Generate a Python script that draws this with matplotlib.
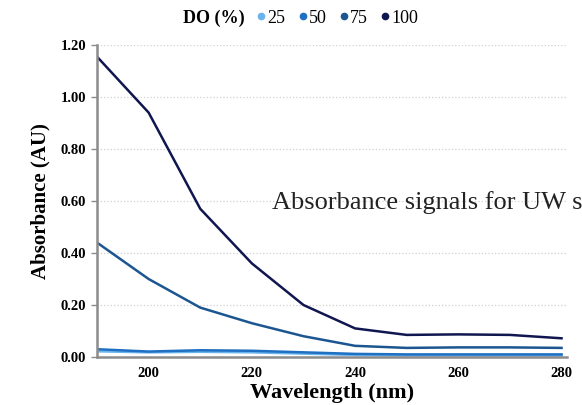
import matplotlib.pyplot as plt
from matplotlib.lines import Line2D

wavelength = [190, 200, 210, 220, 230, 240, 250, 260, 270, 280]
do_levels = ['25', '50', '75', '100']
abs_25 = [0.022, 0.018, 0.020, 0.018, 0.013, 0.008, 0.006, 0.006, 0.006, 0.006]
abs_50 = [0.030, 0.021, 0.026, 0.024, 0.018, 0.012, 0.010, 0.010, 0.010, 0.010]
abs_75 = [0.44, 0.30, 0.19, 0.13, 0.08, 0.043, 0.035, 0.037, 0.037, 0.035]
abs_100 = [1.155, 0.94, 0.57, 0.36, 0.20, 0.11, 0.085, 0.087, 0.085, 0.072]
colors = ['#6ab4ee', '#1f6fc2', '#1b5690', '#10164f']

serif = 'Liberation Serif'
fig = plt.figure(figsize=(5.82, 4.05), dpi=100)
ax = fig.add_axes([0.1667, 0.1185, 0.807, 0.7704])

for vals, c in zip([abs_25, abs_50, abs_75, abs_100], colors):
    ax.plot(wavelength, vals, color=c, lw=1.8, solid_joinstyle='round')

ax.set_xlim(190, 281)
ax.set_ylim(0, 1.2)
ax.set_xticks([200, 220, 240, 260, 280])
ax.set_yticks([0, 0.2, 0.4, 0.6, 0.8, 1.0, 1.2])
ax.set_yticklabels([f'{v:.2f}' for v in ax.get_yticks()])
ax.grid(axis='y', color='#d0d0d0', linestyle=':', lw=0.9)
ax.set_axisbelow(True)
for s in ['top', 'right']:
    ax.spines[s].set_visible(False)
for s in ['left', 'bottom']:
    ax.spines[s].set_color('#8c8c8c')
    ax.spines[s].set_linewidth(1.8)
ax.tick_params(axis='x', length=0, pad=7)
ax.tick_params(axis='y', length=4, color='#8c8c8c', width=1, pad=4)
for lab in ax.get_xticklabels() + ax.get_yticklabels():
    lab.set_fontfamily(serif)
    lab.set_fontweight('bold')
    lab.set_fontsize(10.5)

ax.set_xlabel('Wavelength (nm)', fontfamily=serif, fontweight='bold', fontsize=16, labelpad=2)
ax.set_ylabel('Absorbance (AU)', fontfamily=serif, fontweight='bold', fontsize=15, labelpad=7)

# stray slide text, runs off the right edge as in the source
fig.text(0.467, 0.499, 'Absorbance signals for UW samples', fontfamily=serif,
         fontsize=19, color='#222222', va='center', ha='left')

fig.text(0.314, 0.955, 'DO (%)', fontfamily=serif, fontweight='bold', fontsize=13,
         va='center', ha='left')
handles = [Line2D([], [], marker='o', linestyle='', color=c, markersize=4.5) for c in colors]
fig.legend(handles, do_levels, loc='center left', bbox_to_anchor=(0.433, 0.955), ncol=4,
           frameon=False, prop={'family': serif, 'size': 13}, handletextpad=-0.15,
           columnspacing=0.45, handlelength=1.0, borderaxespad=0, borderpad=0)

fig.savefig('out.png', dpi=100)
